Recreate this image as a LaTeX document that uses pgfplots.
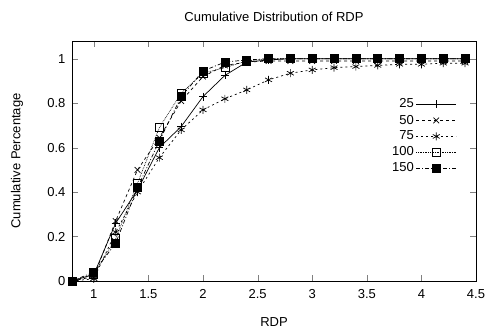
\documentclass[border=0pt]{standalone}
\usepackage{fontspec}
\setmainfont{Liberation Sans}
\usepackage{pgfplots}
\pgfplotsset{compat=1.18}
\begin{document}
\fontsize{13}{15}\selectfont
\begin{tikzpicture}
\path[use as bounding box] (0pt,0pt) rectangle (487pt,332pt);
\begin{axis}[
  at={(72pt,51pt)}, anchor=south west,
  width=404pt, height=240pt, scale only axis,
  xmin=0.8, xmax=4.5, ymin=0, ymax=1.08,
  xtick={1,1.5,2,2.5,3,3.5,4,4.5},
  ytick={0,0.2,0.4,0.6,0.8,1},
  tick align=inside, major tick length=6pt,
  xtick pos=both, ytick pos=both,
  /pgf/number format/assume math mode=true,
  /pgf/number format/fixed,
  ticklabel style={font=\fontsize{13}{15}\selectfont},
  xticklabel style={yshift=-4pt},
  yticklabel style={xshift=-2pt},
  title={Cumulative Distribution of RDP},
  title style={at={(0.5,1)}, anchor=center, yshift=18pt, font=\fontsize{13}{15}\selectfont},
  xlabel={RDP},
  ylabel={Cumulative Percentage},
  xlabel style={at={(0.5,0)}, anchor=center, yshift=-41pt, font=\fontsize{13}{15}\selectfont},
  ylabel style={at={(0,0.5)}, anchor=center, yshift=55pt, font=\fontsize{13}{15}\selectfont},
  axis line style={line width=0.8pt},
  every axis plot/.append style={line width=0.7pt, black},
  legend style={draw=none, fill=none, at={(0.955,0.772)}, anchor=north east,
    font=\fontsize{13}{15}\selectfont, row sep=1pt, inner sep=1pt},
  legend cell align=right,
  legend plot pos=right,
  legend image code/.code={
    \draw[mark repeat=2,mark phase=2,#1] plot coordinates {(0pt,0pt) (20pt,0pt) (40pt,0pt)};
  },
]
\addplot[solid, mark=+, mark size=4pt, mark options={solid}] coordinates {
(0.8,0) (1.0,0.03) (1.2,0.26) (1.4,0.41) (1.6,0.60) (1.8,0.695) (2.0,0.83) (2.2,0.925) (2.4,0.985) (2.6,0.995) (2.8,1) (3.0,1) (3.2,1) (3.4,1) (3.6,1) (3.8,1) (4.0,1) (4.2,1) (4.4,1)};
\addlegendentry{25}
\addplot[dashed, mark=x, mark size=4pt, mark options={solid}] coordinates {
(0.8,0) (1.0,0.02) (1.2,0.27) (1.4,0.50) (1.6,0.645) (1.8,0.81) (2.0,0.92) (2.2,0.97) (2.4,0.985) (2.6,0.99) (2.8,0.99) (3.0,0.99) (3.2,0.99) (3.4,0.99) (3.6,0.99) (3.8,0.99) (4.0,0.99) (4.2,0.99) (4.4,0.99)};
\addlegendentry{50}
\addplot[dash pattern=on 2pt off 3pt, mark=asterisk, mark size=4pt, mark options={solid}] coordinates {
(0.8,0) (1.0,0.01) (1.2,0.22) (1.4,0.40) (1.6,0.555) (1.8,0.68) (2.0,0.77) (2.2,0.82) (2.4,0.86) (2.6,0.905) (2.8,0.935) (3.0,0.95) (3.2,0.96) (3.4,0.965) (3.6,0.97) (3.8,0.975) (4.0,0.975) (4.2,0.98) (4.4,0.98)};
\addlegendentry{75}
\addplot[densely dotted, mark=square, mark size=4pt, mark options={solid}] coordinates {
(0.8,0) (1.0,0.03) (1.2,0.19) (1.4,0.44) (1.6,0.69) (1.8,0.845) (2.0,0.935) (2.2,0.96) (2.4,0.99) (2.6,1) (2.8,1) (3.0,1) (3.2,1) (3.4,1) (3.6,1) (3.8,1) (4.0,1) (4.2,1) (4.4,1)};
\addlegendentry{100}
\addplot[dash pattern=on 4pt off 2pt on 1pt off 2pt, mark=square*, mark size=4pt, mark options={solid}] coordinates {
(0.8,0) (1.0,0.04) (1.2,0.17) (1.4,0.42) (1.6,0.63) (1.8,0.83) (2.0,0.945) (2.2,0.985) (2.4,0.995) (2.6,1) (2.8,1) (3.0,1) (3.2,1) (3.4,1) (3.6,1) (3.8,1) (4.0,1) (4.2,1) (4.4,1)};
\addlegendentry{150}
\end{axis}
\end{tikzpicture}
\end{document}
